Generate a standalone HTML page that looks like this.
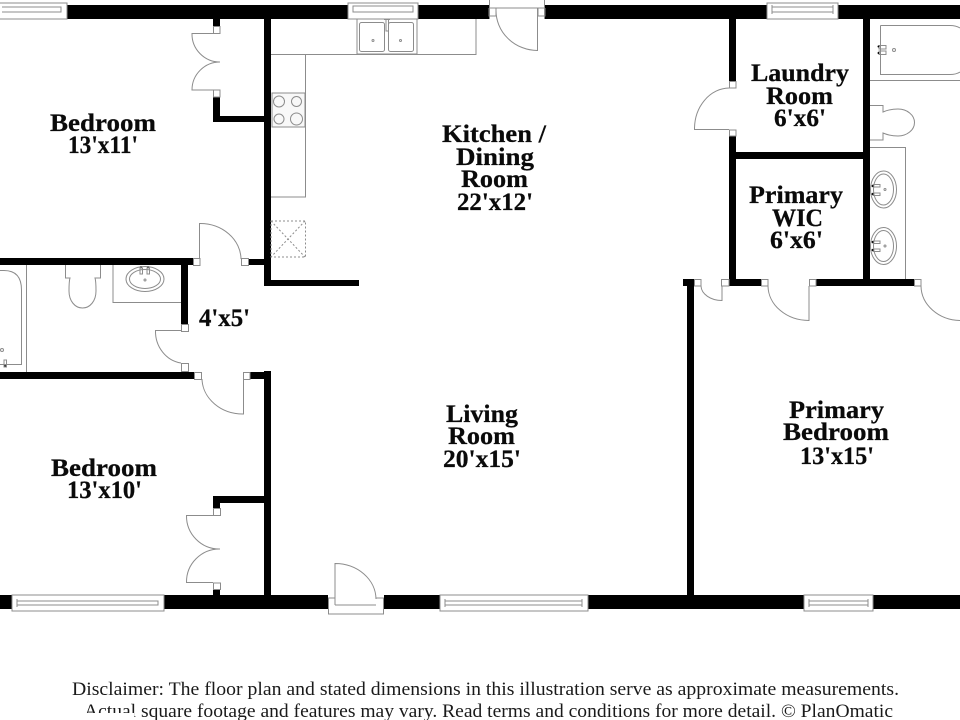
<!DOCTYPE html>
<html><head><meta charset="utf-8"><style>
html,body{margin:0;padding:0;background:#fff;width:960px;height:720px;overflow:hidden}
svg{display:block}
.w{fill:#000;stroke:none}
.l{fill:none;stroke:#8c8c8c;stroke-width:1}
.j{fill:#fff;stroke:#8c8c8c;stroke-width:1}
.t{font-family:"Liberation Serif",serif;font-weight:bold;font-size:25px;fill:#0a0a0a;stroke:#0a0a0a;stroke-width:.25}
.d{font-family:"Liberation Serif",serif;font-size:19px;fill:#1a1a1a}
</style></head><body>
<svg width="960" height="720" viewBox="0 0 960 720" xmlns="http://www.w3.org/2000/svg">
<!-- walls -->
<g class="w">
<rect x="67" y="5" width="422" height="14"/><rect x="545" y="5" width="415" height="14"/>
<rect x="264" y="19" width="7" height="267"/><rect x="264" y="280" width="95" height="6"/>
<rect x="248" y="259" width="16" height="6"/>
<rect x="0" y="258" width="193" height="7"/>
<rect x="213" y="19" width="7" height="7"/><rect x="213" y="97" width="7" height="25"/><rect x="213" y="116" width="51" height="6"/>
<rect x="181" y="265" width="7" height="59"/>
<rect x="0" y="372" width="194" height="7"/><rect x="250" y="372" width="14" height="7"/>
<rect x="264" y="371" width="7" height="224"/>
<rect x="213" y="496" width="51" height="7"/><rect x="213" y="496" width="7" height="12"/><rect x="213" y="589" width="7" height="6"/>
<rect x="0" y="595" width="12" height="14"/><rect x="164" y="595" width="164" height="14"/><rect x="384" y="595" width="56" height="14"/><rect x="588" y="595" width="216" height="14"/><rect x="873" y="595" width="87" height="14"/>
<rect x="687" y="285" width="7" height="310"/>
<rect x="683" y="279" width="11" height="7"/><rect x="729" y="279" width="32" height="7"/><rect x="816" y="279" width="98" height="7"/>
<rect x="729" y="19" width="7" height="62"/><rect x="729" y="136" width="7" height="150"/>
<rect x="729" y="152" width="141" height="7"/><rect x="863" y="19" width="7" height="267"/>
</g>
<!-- windows -->
<g class="l">
<path d="M0 3H67V19H0" style="fill:#fff"/><path d="M2 7H61V12H2M61 7V12M0 19H67"/>
<rect x="348" y="3" width="70" height="16" style="fill:#fff"/><rect x="353" y="6" width="60" height="6"/>
<rect x="767" y="3" width="71" height="16" style="fill:#fff"/><path d="M772 7H833V12H772M772 5V14M833 5V14"/>
<rect x="12" y="595" width="152" height="16" style="fill:#fff"/><path d="M17 601H158V605H17M17 599V607"/>
<rect x="440" y="595" width="148" height="16" style="fill:#fff"/><path d="M445 601H582V605H445M582 599V607M445 599V607"/>
<rect x="804" y="595" width="69" height="16" style="fill:#fff"/><path d="M809 601H868V605H809M809 599V607M868 599V607"/>
</g>
<!-- door jambs and swings -->
<g>
<rect class="j" x="213.500" y="26.500" width="6.500" height="7"/><rect class="j" x="213.500" y="90" width="6.500" height="7"/>
<path class="l" d="M213 33.500H192A28 28 0 0 0 220 62M213 90H192A28 28 0 0 1 220 62"/>
<rect class="j" x="193.500" y="258.500" width="6.500" height="7"/><rect class="j" x="241.500" y="258.500" width="7" height="7"/>
<path class="l" d="M199.500 259V223.500A41 36 0 0 1 241 259"/>
<rect class="j" x="181.500" y="324.500" width="7" height="7"/><rect class="j" x="181.500" y="363.500" width="7" height="8"/>
<path class="l" d="M181 330.500H155.500A30 32 0 0 0 181 363"/>
<rect class="j" x="194.500" y="372.500" width="7" height="7"/><rect class="j" x="243.500" y="372.500" width="6.500" height="7"/>
<path class="l" d="M243.500 379V414A41 36 0 0 1 202 379"/>
<rect class="j" x="213.500" y="508.500" width="7" height="7"/><rect class="j" x="213.500" y="583" width="7" height="6.500"/>
<path class="l" d="M213 515.500H186.500A33 33 0 0 0 220 549M213 582.500H186.500A33 33 0 0 1 220 549"/>
<!-- front door bottom -->
<rect class="j" x="328.500" y="598" width="55" height="16"/>
<rect x="335" y="590" width="42" height="15" fill="#fff"/>
<path class="l" d="M335 605V563.500A41 36 0 0 1 376 599M335 605H376M328.500 598H335M376 598H384"/>
<!-- top door -->
<path class="l" d="M489.500 0V19M544.500 0V19M489.500 8H544.500M489 8V16H496V8M538 8V16H545V8M537.500 8V50.500A42 40 0 0 1 496 10"/>
<!-- laundry -->
<rect class="j" x="729.500" y="81.500" width="6.500" height="6.500"/><rect class="j" x="729.500" y="130" width="6.500" height="6"/>
<path class="l" d="M729 129.500H694.500A35 41 0 0 1 729 88"/>
<!-- bottom right doors -->
<rect class="j" x="694.500" y="279.500" width="6.500" height="6.500"/><rect class="j" x="721.500" y="279.500" width="7.500" height="6.500"/>
<path class="l" d="M722 286V300.500A21 15 0 0 1 701 286"/>
<rect class="j" x="761.500" y="279.500" width="6.500" height="6.500"/><rect class="j" x="809.500" y="279.500" width="6.500" height="6.500"/>
<path class="l" d="M809 286V320.500A41 35 0 0 1 768 286"/>
<rect class="j" x="914.500" y="279.500" width="6.500" height="6.500"/>
<path class="l" d="M921 286A40 35 0 0 0 960 320.500"/>
</g>
<!-- kitchen -->
<g class="l">
<path d="M271 54.500H305.500V197H271M305.500 54.500H476V19"/>
<rect x="272" y="93" width="33" height="34" style="fill:#f8f8f8"/>
<circle cx="279" cy="101.500" r="5.500"/><circle cx="296.500" cy="101.500" r="5"/><circle cx="279" cy="119" r="5"/><circle cx="296.500" cy="119" r="6"/>
<path d="M271 221H305.500V257H271Z" stroke-dasharray="2 2"/><path d="M271 221L305 257M305 221L271 257" stroke-dasharray="2 2"/>
<rect x="357" y="19" width="60" height="35" style="fill:#fff"/>
<rect x="359.500" y="22.500" width="25" height="29" rx="2"/><rect x="388.500" y="22.500" width="25" height="29" rx="2"/>
<path d="M384 19.500H390M386 19V31H388.500V19"/>
<circle cx="373" cy="40.500" r="1"/><circle cx="400.500" cy="40.500" r="1"/>
</g>
<!-- right bath -->
<g class="l">
<path d="M870 80.500H960M880.500 25.500H950Q956 25.500 960 28M880.500 25.500V74.500H950Q956 74.500 960 72"/>
<rect x="879" y="45.500" width="7" height="3.500"/><rect x="879" y="51" width="7" height="3.500"/><circle cx="894" cy="50" r="1.500"/>
<path d="M870 105.500H883V112Q890 109 898 109A16.500 13.500 0 0 1 898 136Q890 136 883 133V140H870"/>
<path d="M870 147.500H905.500V279"/>
<ellipse cx="883.500" cy="189.500" rx="13" ry="18.500"/><ellipse cx="883.500" cy="189.500" rx="10" ry="15.500"/>
<ellipse cx="883.500" cy="246" rx="13" ry="18.500"/><ellipse cx="883.500" cy="246" rx="10" ry="15.500"/>
<rect x="873" y="184.500" width="7" height="2.500"/><rect x="873" y="193" width="7" height="2.500"/>
<rect x="873" y="241" width="7" height="2.500"/><rect x="873" y="249" width="7" height="2.500"/>
<circle cx="885" cy="189.500" r="1"/><circle cx="885" cy="246" r="1"/>
</g>
<g fill="#000"><circle cx="878.500" cy="46.500" r="1"/><circle cx="878.500" cy="53" r="1"/><circle cx="872.500" cy="186" r="1"/><circle cx="872.500" cy="194" r="1"/><circle cx="872.500" cy="242" r="1"/><circle cx="872.500" cy="250" r="1"/><circle cx="5" cy="366" r="1"/><circle cx="141" cy="267" r="1"/><circle cx="148" cy="267" r="1"/></g>
<!-- left bath -->
<g class="l">
<path d="M26.500 265V372M0 270.500H4Q21.500 270.500 21.500 290V364.500H0"/>
<rect x="4" y="360" width="2.500" height="7"/><circle cx="2" cy="350" r="1.500"/>
<path d="M65.500 265V278H70C69 281 69 286 69 291C69 301 75 308 82.500 308C90 308 96 301 96 291C96 286 96 281 95 278H100.500V265"/>
<path d="M113 265V302.500H181"/>
<ellipse cx="145" cy="279" rx="19" ry="12.500"/><ellipse cx="145" cy="279" rx="15.500" ry="9.500"/>
<rect x="140" y="268" width="2.500" height="6"/><rect x="147" y="268" width="2.500" height="6"/><circle cx="145" cy="280" r="1"/>
</g>
<!-- labels -->
<g class="t">
<text x="50" y="131" textLength="106" lengthAdjust="spacingAndGlyphs">Bedroom</text>
<text x="68" y="153" textLength="70" lengthAdjust="spacingAndGlyphs">13'x11'</text>
<text x="442" y="142" textLength="104" lengthAdjust="spacingAndGlyphs">Kitchen /</text>
<text x="456" y="165" textLength="78" lengthAdjust="spacingAndGlyphs">Dining</text>
<text x="461" y="187" textLength="67" lengthAdjust="spacingAndGlyphs">Room</text>
<text x="457" y="210" textLength="76" lengthAdjust="spacingAndGlyphs">22'x12'</text>
<text x="751" y="81" textLength="98" lengthAdjust="spacingAndGlyphs">Laundry</text>
<text x="766" y="104" textLength="67" lengthAdjust="spacingAndGlyphs">Room</text>
<text x="774" y="126" textLength="52" lengthAdjust="spacingAndGlyphs">6'x6'</text>
<text x="749" y="203" textLength="94" lengthAdjust="spacingAndGlyphs">Primary</text>
<text x="772" y="226" textLength="51" lengthAdjust="spacingAndGlyphs">WIC</text>
<text x="770" y="248" textLength="53" lengthAdjust="spacingAndGlyphs">6'x6'</text>
<text x="199" y="326" textLength="51" lengthAdjust="spacingAndGlyphs">4'x5'</text>
<text x="446" y="422" textLength="72" lengthAdjust="spacingAndGlyphs">Living</text>
<text x="448" y="444" textLength="67" lengthAdjust="spacingAndGlyphs">Room</text>
<text x="443" y="467" textLength="78" lengthAdjust="spacingAndGlyphs">20'x15'</text>
<text x="789" y="418" textLength="95" lengthAdjust="spacingAndGlyphs">Primary</text>
<text x="783" y="440" textLength="106" lengthAdjust="spacingAndGlyphs">Bedroom</text>
<text x="800" y="464" textLength="74" lengthAdjust="spacingAndGlyphs">13'x15'</text>
<text x="51" y="476" textLength="106" lengthAdjust="spacingAndGlyphs">Bedroom</text>
<text x="67" y="498" textLength="75" lengthAdjust="spacingAndGlyphs">13'x10'</text>
</g>
<g class="d">
<text x="72" y="695" textLength="827" lengthAdjust="spacingAndGlyphs">Disclaimer: The floor plan and stated dimensions in this illustration serve as approximate measurements.</text>
<text x="84" y="717" textLength="809" lengthAdjust="spacingAndGlyphs">Actual square footage and features may vary. Read terms and conditions for more detail. © PlanOmatic</text>
</g>
<rect x="84" y="713" width="50" height="7" fill="#fff"/>
</svg>
</body></html>
